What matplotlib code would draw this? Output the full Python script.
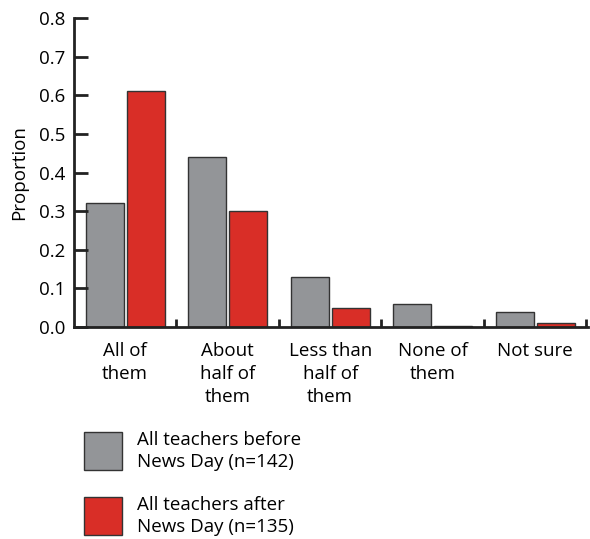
import numpy as np
import matplotlib.pyplot as plt
from matplotlib.patches import Rectangle

plt.rcParams['font.family'] = ['Open Sans', 'DejaVu Sans']

categories = ['All of\nthem', 'About\nhalf of\nthem', 'Less than\nhalf of\nthem', 'None of\nthem', 'Not sure']
before = [0.32, 0.44, 0.13, 0.06, 0.04]
after = [0.61, 0.30, 0.05, 0.002, 0.01]
series_labels = ['All teachers before\nNews Day (n=142)', 'All teachers after\nNews Day (n=135)']

grey = '#939598'
red = '#d92e27'
edge = '#333333'
fs = 13.5

fig = plt.figure(figsize=(5.9, 5.39), dpi=100)
ax = fig.add_axes([0.1254, 0.3933, 0.872, 0.5733])

x = np.arange(len(categories)) + 0.5
w = 0.37
ax.bar(x - 0.2, before, w, color=grey, edgecolor=edge, linewidth=1)
ax.bar(x + 0.2, after, w, color=red, edgecolor=edge, linewidth=1)

ax.set_xlim(0, 5.02)
ax.set_ylim(0, 0.8)
ax.set_yticks(np.arange(0, 0.81, 0.1))
ax.set_yticklabels([f'{v:.1f}' for v in np.arange(0, 0.81, 0.1)])
ax.tick_params(axis='y', direction='in', length=10, width=2, pad=6, labelsize=fs, color='#222222')

ax.set_xticks(x)
ax.set_xticklabels(categories, fontsize=fs, va='top', linespacing=1.35)
ax.tick_params(axis='x', which='major', length=0, pad=11)
ax.set_xticks(np.arange(1, 6), minor=True)
ax.tick_params(axis='x', which='minor', direction='in', length=6, width=2, color='#222222')

for s in ['top', 'right']:
    ax.spines[s].set_visible(False)
for s in ['left', 'bottom']:
    ax.spines[s].set_linewidth(2)
    ax.spines[s].set_color('#222222')

ax.set_ylabel('Proportion', fontsize=fs, labelpad=8)

# legend drawn by hand, squares + two-line labels
for col, lab, ybot in zip([grey, red], series_labels, [0.128, 0.0074]):
    fig.add_artist(Rectangle((0.1424, ybot), 0.0644, 0.0705, transform=fig.transFigure,
                             facecolor=col, edgecolor=edge, linewidth=1))
    fig.text(0.2322, ybot + 0.0705 / 2, lab, fontsize=fs, va='center', ha='left',
             linespacing=1.3)

fig.savefig('out.png', dpi=100)
